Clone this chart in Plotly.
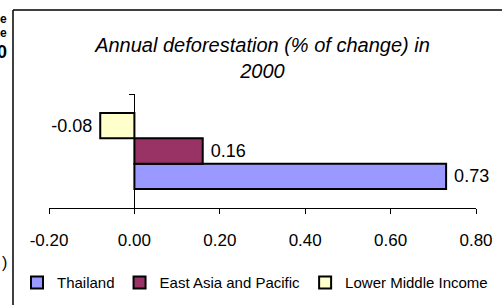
import plotly.graph_objects as go

# Data
category = ["2000"]
series_names = ["Thailand", "East Asia and Pacific", "Lower Middle Income"]
thailand = [0.73]
east_asia_pacific = [0.16]
lower_middle_income = [-0.08]
x_ticks = [-0.2, 0.0, 0.2, 0.4, 0.6, 0.8]
x_tick_labels = ["%.2f" % v for v in x_ticks]

colors = ["#9999FF", "#993366", "#FFFFCC"]
FONT = "Liberation Sans, Arial, sans-serif"

W, H = 502, 305
L, R, T, B = 49, 26, 94, 97
PW, PH = W - L - R, H - T - B


def px_x(px):
    return (px - L) / PW


def px_y(py):
    return (H - B - py) / PH


fig = go.Figure()
for name, vals, col in zip(series_names, [thailand, east_asia_pacific, lower_middle_income], colors):
    tmpl = "%{x:.2f}\u00a0" if vals[0] < 0 else "\u00a0%{x:.2f}"
    fig.add_trace(go.Bar(
        name=name, y=category, x=vals, orientation="h",
        marker=dict(color=col, line=dict(color="black", width=2)),
        texttemplate=tmpl, textposition="outside",
        textfont=dict(family=FONT, size=18, color="black"),
        cliponaxis=False,
    ))

fig.update_layout(
    width=W, height=H,
    margin=dict(l=L, r=R, t=T, b=B, autoexpand=False),
    paper_bgcolor="white", plot_bgcolor="white",
    barmode="group", bargap=1/3, bargroupgap=0,
    font=dict(family=FONT, color="black"),
    title=dict(
        text="Annual deforestation (% of change) in<br>2000",
        font=dict(family=FONT, size=20, color="black", style="italic"),
        x=0.5, xref="paper", xanchor="center",
        y=1 - 52 / H, yref="container", yanchor="middle",
    ),
    xaxis=dict(
        range=[-0.2, 0.8], tickvals=x_ticks, ticktext=x_tick_labels,
        showgrid=False, zeroline=False,
        showline=True, linecolor="black", linewidth=1,
        ticks="outside", ticklen=5, tickcolor="black",
        tickfont=dict(family=FONT, size=17, color="black"),
        ticklabelstandoff=12,
    ),
    yaxis=dict(
        type="category", range=[-0.5, 0.5],
        anchor="free", position=0.2,
        showticklabels=False, showgrid=False, zeroline=False,
        showline=True, linecolor="black", linewidth=1,
        ticks="outside", tickson="boundaries", ticklen=5, tickcolor="black",
    ),
    legend=dict(
        orientation="h", x=px_x(17), xanchor="left",
        y=px_y(282.7), yanchor="middle",
        font=dict(family=FONT, size=15, color="black"),
        bgcolor="rgba(0,0,0,0)", itemwidth=30, tracegroupgap=0,
    ),
    showlegend=True,
)

# outer frame of the chart area (top and left edges visible)
fig.add_shape(type="line", xref="paper", yref="paper",
              x0=px_x(13), x1=px_x(510), y0=px_y(10), y1=px_y(10),
              line=dict(color="black", width=1.5))
fig.add_shape(type="line", xref="paper", yref="paper",
              x0=px_x(13), x1=px_x(13), y0=px_y(10), y1=px_y(310),
              line=dict(color="black", width=1.5))

# clipped text fragments of a neighbouring chart at the left edge
for txt, py, size, bold in [("e", 19, 12, True), ("e", 33, 12, True), ("0", 52, 18, True), (")", 262, 16, False)]:
    fig.add_annotation(
        text=("<b>%s</b>" % txt) if bold else txt, xref="paper", yref="paper",
        x=px_x(9), y=px_y(py), xanchor="right", yanchor="middle",
        showarrow=False, font=dict(family=FONT, size=size, color="black"),
    )

fig.write_html("out.html", config={"displayModeBar": False},
               post_script="document.body.style.margin='0px';")
